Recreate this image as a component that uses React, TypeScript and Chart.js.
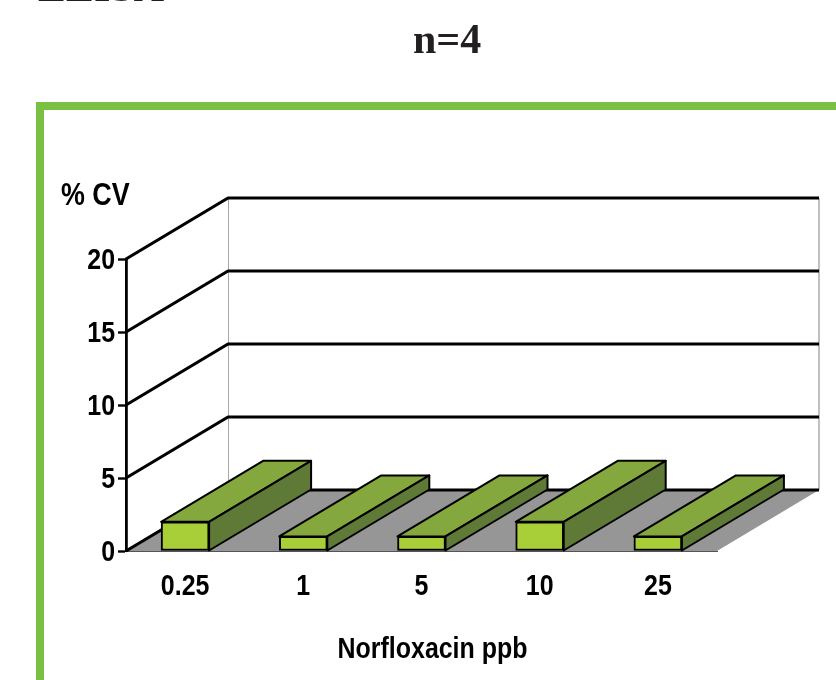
import React, { useEffect, useRef } from "react";
import { Chart, registerables } from "chart.js";

Chart.register(...registerables);

const categories = ["0.25", "1", "5", "10", "25"];
const cvValues = [2, 1, 1, 2, 1];
const yTicks = [0, 5, 10, 15, 20];
const headingCut = "ELISA";
const headingN = "n=4";
const yTitle = "% CV";
const xTitle = "Norfloxacin ppb";

const DEPTH_X = 102;
const DEPTH_Y = -61;
const SANS = '"Liberation Sans", Arial, sans-serif';
const NARROW_X = 0.86;

function narrowText(ctx: any, text: string, x: number, y: number, align: string, size: number, sx = NARROW_X) {
  ctx.save();
  ctx.translate(x, y);
  ctx.scale(sx, 1);
  ctx.font = `bold ${size}px ${SANS}`;
  ctx.textAlign = align;
  ctx.textBaseline = "alphabetic";
  ctx.fillStyle = "#000";
  ctx.fillText(text, 0, 0);
  ctx.restore();
}

const depthPlugin = {
  id: "depth",
  beforeDatasetsDraw(chart: any) {
    const { ctx, scales } = chart;
    const x = scales.x;
    const y = scales.y;
    const left = x.left;
    const right = x.right;
    const y0 = y.getPixelForValue(0);
    const yTop = y.getPixelForValue(20);
    ctx.save();
    ctx.lineJoin = "round";
    // walls
    ctx.strokeStyle = "#a8a8a8";
    ctx.lineWidth = 1;
    ctx.beginPath();
    ctx.moveTo(left + DEPTH_X + 0.5, yTop + DEPTH_Y);
    ctx.lineTo(left + DEPTH_X + 0.5, y0 + DEPTH_Y);
    ctx.stroke();
    ctx.strokeStyle = "#c0c0c0";
    ctx.lineWidth = 2;
    ctx.beginPath();
    ctx.moveTo(right + DEPTH_X, yTop + DEPTH_Y);
    ctx.lineTo(right + DEPTH_X, y0 + DEPTH_Y);
    ctx.stroke();
    // floor
    ctx.fillStyle = "#969696";
    ctx.beginPath();
    ctx.moveTo(left, y0);
    ctx.lineTo(left + DEPTH_X, y0 + DEPTH_Y);
    ctx.lineTo(right + DEPTH_X, y0 + DEPTH_Y);
    ctx.lineTo(right, y0);
    ctx.closePath();
    ctx.fill();
    // grid
    ctx.strokeStyle = "#000";
    ctx.lineWidth = 3.2;
    for (const t of yTicks) {
      const py = y.getPixelForValue(t);
      ctx.beginPath();
      ctx.moveTo(left, py);
      ctx.lineTo(left + DEPTH_X, py + DEPTH_Y);
      ctx.lineTo(right + DEPTH_X, py + DEPTH_Y);
      ctx.stroke();
    }
    // bar depth faces
    const meta = chart.getDatasetMeta(0);
    ctx.lineWidth = 2;
    ctx.strokeStyle = "#000";
    meta.data.forEach((bar: any) => {
      const p = bar.getProps(["x", "y", "base", "width"], true);
      const l = p.x - p.width / 2;
      const r = p.x + p.width / 2;
      ctx.fillStyle = "#84A83E";
      ctx.beginPath();
      ctx.moveTo(l, p.y);
      ctx.lineTo(l + DEPTH_X, p.y + DEPTH_Y);
      ctx.lineTo(r + DEPTH_X, p.y + DEPTH_Y);
      ctx.lineTo(r, p.y);
      ctx.closePath();
      ctx.fill();
      ctx.stroke();
      ctx.fillStyle = "#5F7A36";
      ctx.beginPath();
      ctx.moveTo(r, p.y);
      ctx.lineTo(r + DEPTH_X, p.y + DEPTH_Y);
      ctx.lineTo(r + DEPTH_X, p.base + DEPTH_Y);
      ctx.lineTo(r, p.base);
      ctx.closePath();
      ctx.fill();
      ctx.stroke();
    });
    ctx.restore();
  },
  afterDraw(chart: any) {
    const { ctx, scales } = chart;
    narrowText(ctx, yTitle, 61, 205, "left", 32, 0.84);
    narrowText(ctx, xTitle, 432.5, 658, "center", 29);
    categories.forEach((c, i) => {
      narrowText(ctx, c, scales.x.getPixelForValue(i), 595, "center", 29);
    });
    yTicks.forEach((t) => {
      narrowText(ctx, String(t), 115, scales.y.getPixelForValue(t) + 10, "right", 29);
    });
  },
};

export default function App() {
  const ref = useRef<HTMLCanvasElement>(null);
  useEffect(() => {
    document.body.style.margin = "0";
    const chart = new Chart(ref.current!, {
      type: "bar",
      data: {
        labels: categories,
        datasets: [
          {
            data: cvValues,
            backgroundColor: "#A8CF38",
            borderColor: "#000",
            borderWidth: 2,
            borderSkipped: false,
            barThickness: 48,
          },
        ],
      },
      options: {
        animation: false,
        responsive: false,
        layout: { padding: { left: 0, right: 119, top: 259, bottom: 0 } },
        plugins: { legend: { display: false }, title: { display: false }, tooltip: { enabled: false } },
        scales: {
          x: {
            grid: { display: false, drawTicks: false },
            border: { display: true, color: "#555", width: 1 },
            afterFit: (s: any) => {
              s.height = 129;
            },
            ticks: { display: false },
          },
          y: {
            min: 0,
            max: 20,
            afterFit: (s: any) => {
              s.width = 126;
            },
            afterBuildTicks: (s: any) => {
              s.ticks = yTicks.map((value) => ({ value }));
            },
            grid: { drawOnChartArea: false, drawTicks: true, tickLength: 8, tickWidth: 2.4, tickColor: "#000" },
            border: { display: true, color: "#000", width: 2.8 },
            ticks: { display: false },
          },
        },
      },
      plugins: [depthPlugin],
    });
    return () => chart.destroy();
  }, []);
  return (
    <div style={{ position: "relative", width: 836, height: 680, overflow: "hidden", background: "#fff" }}>
      <canvas ref={ref} width={836} height={680} style={{ position: "absolute", left: 0, top: 0 }} />
      <div
        style={{
          position: "absolute",
          left: 36,
          top: 102,
          width: 900,
          height: 700,
          border: "8px solid #7AC143",
          boxSizing: "border-box",
          pointerEvents: "none",
        }}
      />
      <div style={{ position: "absolute", left: 38, top: -37, font: 'bold 42px "Liberation Serif", serif', color: "#231F20" }}>
        {headingCut}
      </div>
      <div style={{ position: "absolute", left: 413, top: 15, font: 'bold 42px "Liberation Serif", serif', color: "#231F20" }}>
        {headingN}
      </div>
    </div>
  );
}
